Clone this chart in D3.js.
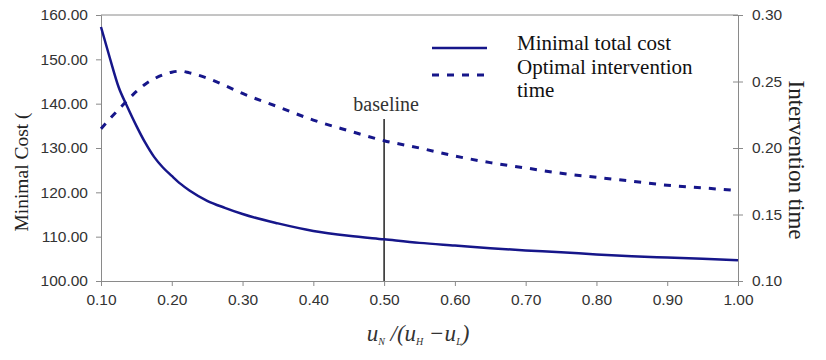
<!DOCTYPE html>
<html><head><meta charset="utf-8">
<script src="https://cdn.jsdelivr.net/npm/d3@7"></script>
<style>body{margin:0;background:#fff}svg{display:block}</style>
</head><body>
<script>
const xValues = [0.10,0.1125,0.125,0.1375,0.15,0.1625,0.175,0.1875,0.20,0.2125,0.225,0.25,0.275,0.30,0.35,0.40,0.45,0.50,0.55,0.60,0.65,0.70,0.75,0.80,0.85,0.90,0.95,1.00];
const costValues = [157.3,150.3,143.7,139.2,135.0,131.2,128.0,125.6,123.7,121.9,120.4,118.1,116.5,115.1,113.0,111.3,110.2,109.4,108.6,108.0,107.4,106.9,106.5,106.0,105.6,105.3,105.0,104.7];
const timeValues = [0.2145,0.222,0.229,0.236,0.2425,0.248,0.252,0.255,0.257,0.2578,0.2565,0.2525,0.247,0.241,0.231,0.221,0.213,0.2055,0.200,0.194,0.189,0.185,0.181,0.178,0.175,0.172,0.170,0.168];
const xTicks = [0.1,0.2,0.3,0.4,0.5,0.6,0.7,0.8,0.9,1.0];
const leftTicks = [100,110,120,130,140,150,160];
const rightTicks = [0.10,0.15,0.20,0.25,0.30];
const baselineX = 0.5;
const legendLabels = [["Minimal total cost"],["Optimal intervention","time"]];

const W=826,H=360;
const m={left:101,right:826-738,top:15,bottom:360-281};
const svg=d3.select("body").append("svg").attr("width",W).attr("height",H);
const x=d3.scaleLinear().domain([0.1,1.0]).range([m.left,W-m.right]);
const yL=d3.scaleLinear().domain([100,160]).range([H-m.bottom,m.top]);
const yR=d3.scaleLinear().domain([0.10,0.30]).range([H-m.bottom,m.top]);
const col="#16168a", axCol="#8a8a8a", txt="#333";

// frame top
svg.append("line").attr("x1",x(0.1)).attr("x2",x(1.0)).attr("y1",yL(160)).attr("y2",yL(160)).attr("stroke",axCol);

const fmt2=d3.format(".2f");
const gx=svg.append("g").attr("transform",`translate(0,${yL(100)})`).call(d3.axisBottom(x).tickValues(xTicks).tickFormat(fmt2).tickSize(5).tickPadding(8));
const gl=svg.append("g").attr("transform",`translate(${x(0.1)},0)`).call(d3.axisLeft(yL).tickValues(leftTicks).tickFormat(fmt2).tickSize(5).tickPadding(8));
const gr=svg.append("g").attr("transform",`translate(${x(1.0)},0)`).call(d3.axisRight(yR).tickValues(rightTicks).tickFormat(fmt2).tickSize(5).tickPadding(9));
gr.selectAll(".tick line").attr("x1",-5);
[gx,gl,gr].forEach(g=>{
  g.select(".domain").attr("stroke",axCol);
  g.selectAll(".tick line").attr("stroke",axCol);
  g.selectAll(".tick text").attr("fill",txt).style("font-family","Liberation Sans, Arial, sans-serif").style("font-size","15.5px");
});

// baseline
svg.append("line").attr("x1",x(baselineX)).attr("x2",x(baselineX)).attr("y1",119).attr("y2",yL(100)).attr("stroke","#222").attr("stroke-width",1.5);
svg.append("text").attr("x",x(baselineX)+2).attr("y",111).attr("text-anchor","middle").attr("fill",txt)
  .style("font-family","Liberation Serif, Times New Roman, serif").style("font-size","20px").text("baseline");

const data=xValues.map((v,i)=>({x:v,c:costValues[i],t:timeValues[i]}));
svg.append("path").datum(data).attr("fill","none").attr("stroke",col).attr("stroke-width",2.5)
  .attr("d",d3.line().x(d=>x(d.x)).y(d=>yL(d.c)).curve(d3.curveMonotoneX));
svg.append("path").datum(data).attr("fill","none").attr("stroke",col).attr("stroke-width",3).attr("stroke-dasharray","7,8")
  .attr("d",d3.line().x(d=>x(d.x)).y(d=>yR(d.t)).curve(d3.curveMonotoneX));

// legend
const serif="Liberation Serif, Times New Roman, serif";
svg.append("line").attr("x1",432).attr("x2",487).attr("y1",48).attr("y2",48).attr("stroke",col).attr("stroke-width",2.5);
svg.append("line").attr("x1",432).attr("x2",487).attr("y1",75).attr("y2",75).attr("stroke",col).attr("stroke-width",3).attr("stroke-dasharray","7,8");
svg.append("text").attr("x",517).attr("y",50).style("font-family",serif).style("font-size","21px").attr("fill","#111").text(legendLabels[0][0]);
const t2=svg.append("text").attr("x",517).attr("y",74).style("font-family",serif).style("font-size","21px").attr("fill","#111");
t2.append("tspan").attr("x",517).text(legendLabels[1][0]);
t2.append("tspan").attr("x",517).attr("dy",23).text(legendLabels[1][1]);

// axis titles
svg.append("text").attr("transform","translate(28,172) rotate(-90)").attr("text-anchor","middle")
  .style("font-family",serif).style("font-size","19.5px").attr("fill","#222").text("Minimal Cost (");
svg.append("text").attr("transform","translate(789,160) rotate(90)").attr("text-anchor","middle")
  .style("font-family",serif).style("font-size","23px").attr("fill","#222").text("Intervention time");

const xt=svg.append("text").attr("x",418).attr("y",341).attr("text-anchor","middle")
  .style("font-family",serif).style("font-size","23px").style("font-style","italic").attr("fill","#333");
xt.append("tspan").text("u");
xt.append("tspan").attr("dy",4).style("font-size","10px").text("N");
xt.append("tspan").attr("dy",-4).text(" /(u");
xt.append("tspan").attr("dy",4).style("font-size","10px").text("H");
xt.append("tspan").attr("dy",-4).text(" \u2212u");
xt.append("tspan").attr("dy",4).style("font-size","10px").text("L");
xt.append("tspan").attr("dy",-4).text(")");
</script>
</body></html>
